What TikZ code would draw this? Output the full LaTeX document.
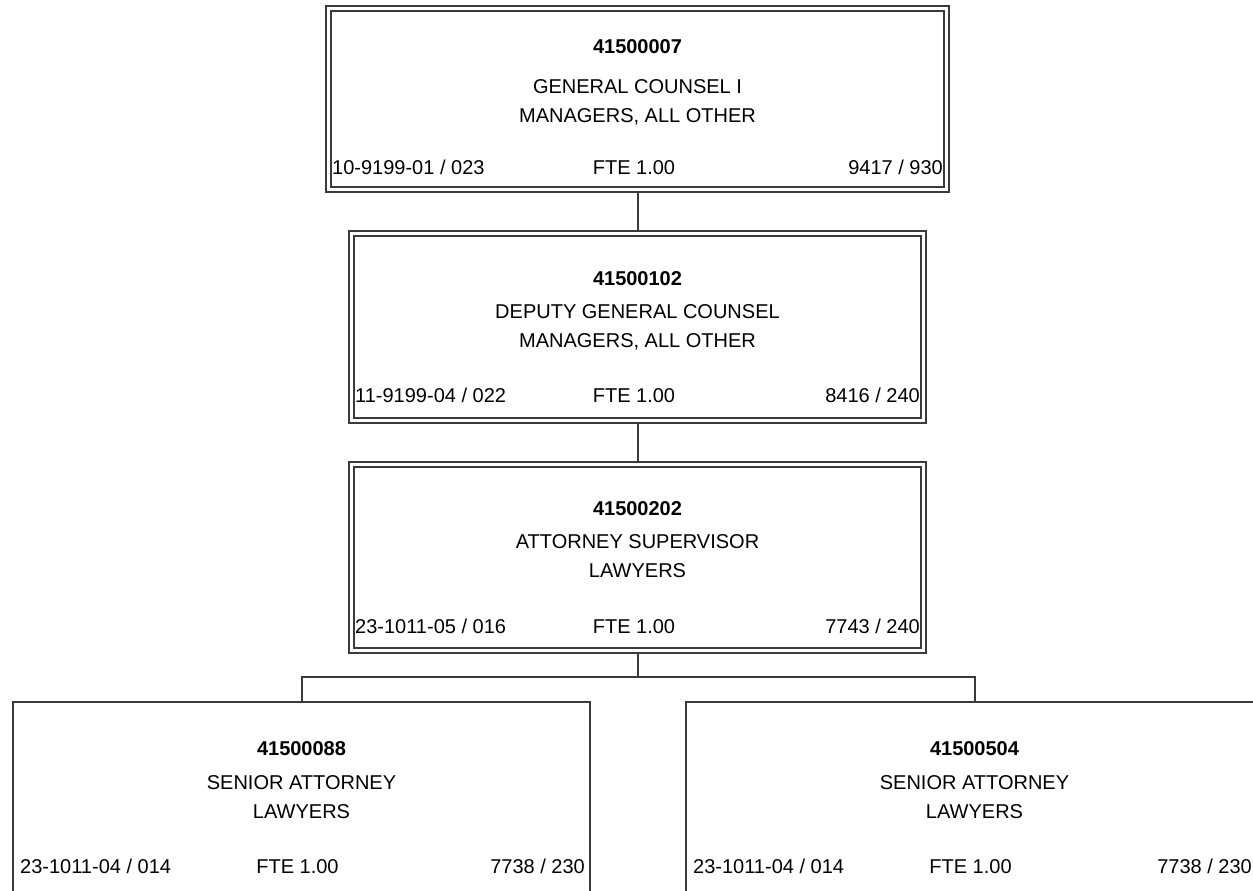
\documentclass[tikz,border=0pt]{standalone}
\usepackage{fontspec}
\setmainfont{Liberation Sans}
\definecolor{rule}{HTML}{3A3A3A}
\begin{document}
\begin{tikzpicture}[x=1pt,y=-1pt,
  posbox/.style={draw=rule,line width=1.4pt,double=white,double distance=3.6pt,
    fill=white,inner sep=0pt,outer sep=3.2pt},
  leafbox/.style={draw=rule,line width=1.4pt,fill=white,inner sep=0pt,outer sep=0.7pt},
  link/.style={draw=rule,line width=2pt},
  txt/.style={inner sep=0pt,anchor=base,font=\fontsize{20}{24}\selectfont},
  num/.style={txt,font=\fontsize{20}{24}\selectfont\bfseries},
  lft/.style={txt,anchor=base west},
  rgt/.style={txt,anchor=base east}]
\useasboundingbox (0,0) rectangle (1253,891);
\clip (0,0) rectangle (1253,891);

% position boxes
\node[posbox,minimum width=618pt,minimum height=181pt] (b1) at (637.5,99) {};
\node[posbox,minimum width=572pt,minimum height=187pt] (b2) at (637.5,327) {};
\node[posbox,minimum width=572pt,minimum height=186pt] (b3) at (637.5,557.5) {};
\node[leafbox,minimum width=577pt,minimum height=258pt] (b4) at (301.5,831) {};
\node[leafbox,minimum width=577pt,minimum height=258pt] (b5) at (974.5,831) {};

% reporting lines
\coordinate (bar) at (637.5,677);
\draw[link] (b1.south) -- (b2.north);
\draw[link] (b2.south) -- (b3.north);
\draw[link] (b3.south) -- (bar);
\draw[link] (b4.north) |- (bar) -| (b5.north);

% box 1
\node[num] (t1a) at (637.5,54) {41500007};
\node[txt] (t1b) at (637.5,93) {GENERAL COUNSEL I};
\node[txt] (t1c) at (637.5,122) {MANAGERS, ALL OTHER};
\node[lft] (t1d) at (332,174) {10-9199-01 / 023};
\node[txt] (t1e) at (634,174) {FTE 1.00};
\node[rgt] (t1f) at (943,174) {9417 / 930};

% box 2
\node[num] (t2a) at (637.5,285) {41500102};
\node[txt] (t2b) at (637.5,318) {DEPUTY GENERAL COUNSEL};
\node[txt] (t2c) at (637.5,347) {MANAGERS, ALL OTHER};
\node[lft] (t2d) at (355,402) {11-9199-04 / 022};
\node[txt] (t2e) at (634,402) {FTE 1.00};
\node[rgt] (t2f) at (920,402) {8416 / 240};

% box 3
\node[num] (t3a) at (637.5,515) {41500202};
\node[txt] (t3b) at (637.5,548) {ATTORNEY SUPERVISOR};
\node[txt] (t3c) at (637.5,577) {LAWYERS};
\node[lft] (t3d) at (355,633) {23-1011-05 / 016};
\node[txt] (t3e) at (634,633) {FTE 1.00};
\node[rgt] (t3f) at (920,633) {7743 / 240};

% box 4
\node[num] (t4a) at (301.5,755) {41500088};
\node[txt] (t4b) at (301.5,789) {SENIOR ATTORNEY};
\node[txt] (t4c) at (301.5,818) {LAWYERS};
\node[lft] (t4d) at (20,873) {23-1011-04 / 014};
\node[txt] (t4e) at (297.5,873) {FTE 1.00};
\node[rgt] (t4f) at (585,873) {7738 / 230};

% box 5
\node[num] (t5a) at (974.5,755) {41500504};
\node[txt] (t5b) at (974.5,789) {SENIOR ATTORNEY};
\node[txt] (t5c) at (974.5,818) {LAWYERS};
\node[lft] (t5d) at (693,873) {23-1011-04 / 014};
\node[txt] (t5e) at (970.5,873) {FTE 1.00};
\node[rgt] (t5f) at (1252,873) {7738 / 230};
\end{tikzpicture}
\end{document}
